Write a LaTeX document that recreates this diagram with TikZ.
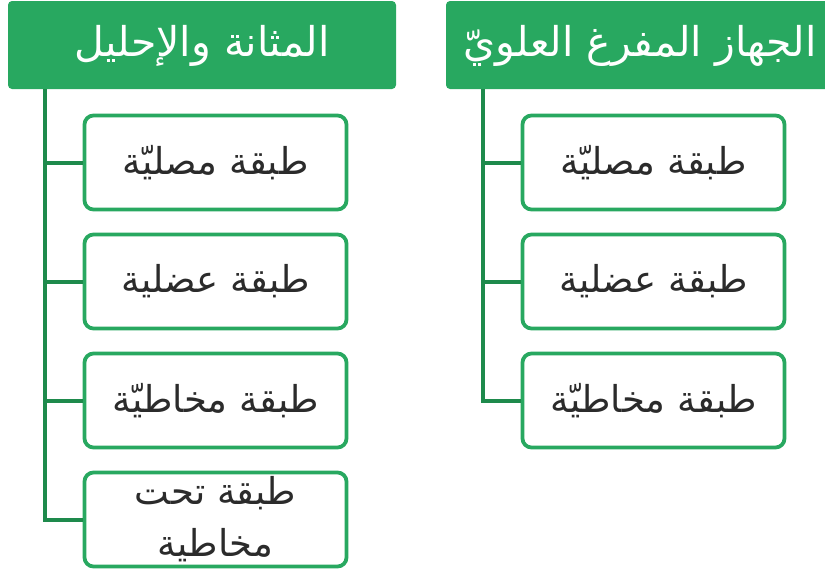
\documentclass[tikz,border=0pt]{standalone}
\usepackage{fontspec}
\TeXXeTstate=1
\newfontfamily\arabicfont[Script=Arabic]{DejaVu Sans}
\definecolor{hdrgreen}{HTML}{28A860}
\definecolor{linegreen}{HTML}{1E8A4C}
\definecolor{txtgray}{HTML}{2B2B2B}
\newcommand{\AR}[1]{\beginR #1\endR}
\begin{document}
\begin{tikzpicture}[x=1pt,y=-1pt,
  header/.style={fill=hdrgreen, rounded corners=4pt},
  htext/.style={text=white, font=\arabicfont\fontsize{41}{46}\selectfont, inner sep=0pt},
  leaf/.style={draw=hdrgreen, line width=3.8pt, fill=white, rounded corners=9pt, minimum width=262pt, minimum height=94pt, text=txtgray, font=\arabicfont\fontsize{37}{52}\selectfont, align=center, inner sep=0pt},
  conn/.style={draw=linegreen, line width=4pt}]
\useasboundingbox (0,0) rectangle (825,571);
% headers
\path[header] (8,1) rectangle (396,89);
\node[htext] (hl) at (202,46) {\AR{المثانة والإحليل}};
\path[header] (446,1) rectangle (832,89);
\node[htext] (hr) at (640,46) {\AR{الجهاز المفرغ العلويّ}};
% spine coordinates
\coordinate (lt) at (45,89);
\coordinate (rt) at (483,89);
% left leaves
\node[leaf] (l1) at (215.5,162.5) {\AR{طبقة مصليّة}};
\node[leaf] (l2) at (215.5,281.5) {\AR{طبقة عضلية}};
\node[leaf] (l3) at (215.5,400.5) {\AR{طبقة مخاطيّة}};
\node[leaf] (l4) at (215.5,519.5) {\AR{طبقة تحت}\\\AR{مخاطية}};
% right leaves
\node[leaf] (r1) at (653.5,162.5) {\AR{طبقة مصليّة}};
\node[leaf] (r2) at (653.5,281.5) {\AR{طبقة عضلية}};
\node[leaf] (r3) at (653.5,400.5) {\AR{طبقة مخاطيّة}};
% connectors
\draw[conn] (lt) |- (l4.west);
\draw[conn] (lt |- l1.west) -- (l1.west);
\draw[conn] (lt |- l2.west) -- (l2.west);
\draw[conn] (lt |- l3.west) -- (l3.west);
\draw[conn] (rt) |- (r3.west);
\draw[conn] (rt |- r1.west) -- (r1.west);
\draw[conn] (rt |- r2.west) -- (r2.west);
\end{tikzpicture}
\end{document}
